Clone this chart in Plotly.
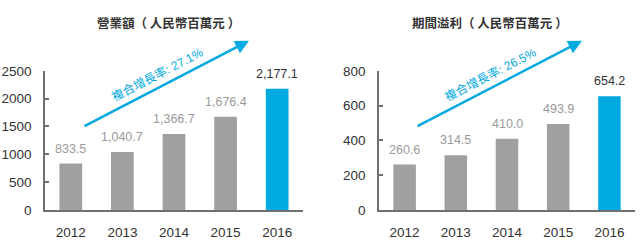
import plotly.graph_objects as go

years = ["2012", "2013", "2014", "2015", "2016"]
revenue = [833.5, 1040.7, 1366.7, 1676.4, 2177.1]
profit = [260.6, 314.5, 410.0, 493.9, 654.2]
revenue_labels = ["833.5", "1,040.7", "1,366.7", "1,676.4", "2,177.1"]
profit_labels = ["260.6", "314.5", "410.0", "493.9", "654.2"]
titles = ["營業額（ 人民幣百萬元 ）", "期間溢利（ 人民幣百萬元 ）"]
cagr_texts = ["複合增長率: 27.1%", "複合增長率: 26.5%"]
rev_ticks = [0, 500, 1000, 1500, 2000, 2500]
prof_ticks = [0, 200, 400, 600, 800]

GRAY = "#a0a0a0"
BLUE = "#00a9e0"
FONT = "Liberation Sans, Arial, Noto Sans CJK TC"
colors = [GRAY] * 4 + [BLUE]
label_colors = ["#9a9a9a"] * 4 + ["#333333"]

fig = go.Figure()
fig.add_trace(go.Bar(x=years, y=revenue, marker=dict(color=colors, line=dict(width=0)),
                     width=0.44, xaxis="x", yaxis="y", showlegend=False))
fig.add_trace(go.Bar(x=years, y=profit, marker=dict(color=colors, line=dict(width=0)),
                     width=0.44, xaxis="x2", yaxis="y2", showlegend=False))

axis_common = dict(showgrid=False, zeroline=False, showline=True, linecolor="#707070",
                   linewidth=1.5, tickfont=dict(family=FONT, size=13.5, color="#333333"))

fig.update_layout(
    width=640, height=247, margin=dict(l=0, r=0, t=0, b=0),
    plot_bgcolor="white", paper_bgcolor="white",
    xaxis=dict(domain=[0.0703, 0.4734], ticks="", type="category", range=[-0.5, 4.5],
               ticklabelstandoff=9, **axis_common),
    yaxis=dict(domain=[0.1255, 0.7247], range=[0, 2500], tickvals=rev_ticks, ticks="inside",
               ticklen=4, tickcolor="#707070", tickwidth=1.5, anchor="x",
               ticklabelstandoff=9, **axis_common),
    xaxis2=dict(domain=[0.5922, 0.9922], ticks="", type="category", range=[-0.5, 4.5],
                anchor="y2", ticklabelstandoff=9, **axis_common),
    yaxis2=dict(domain=[0.1255, 0.7247], range=[0, 800], tickvals=prof_ticks, ticks="inside",
                ticklen=4, tickcolor="#707070", tickwidth=1.5, anchor="x2",
                ticklabelstandoff=9, **axis_common),
    bargap=0.5,
)

# data labels
for xa, ya, vals, labs in [("x", "y", revenue, revenue_labels), ("x2", "y2", profit, profit_labels)]:
    for i, (v, lab) in enumerate(zip(vals, labs)):
        fig.add_annotation(x=i, y=v, xref=xa, yref=ya, text=lab, showarrow=False,
                           yanchor="bottom", yshift=6,
                           font=dict(family=FONT, size=12.5, color=label_colors[i]))

# titles
for cx, t in zip([0.263, 0.765], titles):
    fig.add_annotation(x=cx, y=1 - 17 / 247, xref="paper", yref="paper", text="<b>" + t + "</b>",
                       showarrow=False, xanchor="center", yanchor="middle",
                       font=dict(family="Noto Sans CJK TC", size=12.5, color="#333333"))

# growth arrows
for hx, tx, txt in [(249, 157, cagr_texts[0]), (582, 490, cagr_texts[1])]:
    fig.add_annotation(x=hx / 640, y=1 - 36 / 247, xref="paper", yref="paper", text="",
                       showarrow=True, ax=-166, ay=86, axref="pixel", ayref="pixel",
                       arrowhead=2, arrowsize=1.1, arrowwidth=2.5, arrowcolor=BLUE)
    fig.add_annotation(x=tx / 640, y=1 - 72 / 247, xref="paper", yref="paper", text=txt,
                       showarrow=False, textangle=-27.4, xanchor="center", yanchor="middle",
                       font=dict(family=FONT, size=12, color=BLUE))

fig.write_html("out.html")
